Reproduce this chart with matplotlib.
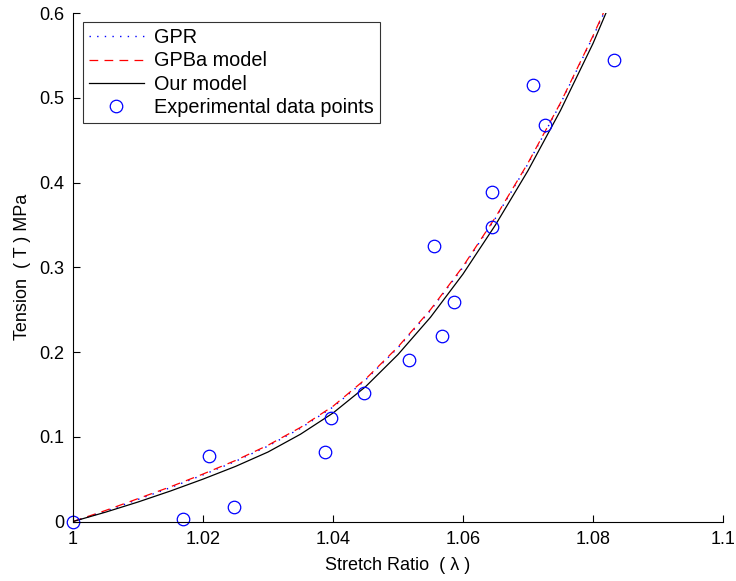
import numpy as np
import matplotlib
matplotlib.use("Agg")
import matplotlib.pyplot as plt

plt.rcParams['font.family'] = ['Liberation Sans', 'DejaVu Sans']

# experimental data (stretch ratio, tension in MPa)
exp_x = [1.000, 1.0169, 1.0209, 1.0248, 1.0388, 1.0397, 1.0448, 1.0517, 1.0556,
         1.0567, 1.0586, 1.0644, 1.0645, 1.0708, 1.0726, 1.0833]
exp_y = [0.000, 0.003, 0.077, 0.017, 0.082, 0.122, 0.152, 0.190, 0.325,
         0.219, 0.259, 0.347, 0.389, 0.515, 0.468, 0.544]

# model curves
our_x = [1.000, 1.005, 1.010, 1.015, 1.020, 1.025, 1.030, 1.035, 1.040,
         1.045, 1.050, 1.055, 1.060, 1.065, 1.070, 1.075, 1.080, 1.082]
our_y = [0.000, 0.011, 0.023, 0.036, 0.050, 0.065, 0.082, 0.103, 0.128,
         0.159, 0.197, 0.241, 0.292, 0.350, 0.414, 0.485, 0.564, 0.600]

gpba_x = [1.000, 1.005, 1.010, 1.015, 1.020, 1.025, 1.030, 1.035, 1.040,
          1.045, 1.050, 1.055, 1.060, 1.065, 1.070, 1.075, 1.080, 1.0816]
gpba_y = [0.000, 0.013, 0.027, 0.041, 0.056, 0.072, 0.090, 0.111, 0.136,
          0.168, 0.206, 0.250, 0.301, 0.359, 0.423, 0.494, 0.573, 0.600]

gpr_x = [1.000, 1.005, 1.010, 1.015, 1.020, 1.025, 1.030, 1.035, 1.040,
         1.045, 1.050, 1.055, 1.060, 1.065, 1.070, 1.075, 1.080, 1.0817]
gpr_y = [0.000, 0.012, 0.026, 0.040, 0.055, 0.071, 0.089, 0.110, 0.135,
         0.167, 0.205, 0.249, 0.300, 0.358, 0.422, 0.493, 0.572, 0.600]

x_ticks = [1.0, 1.02, 1.04, 1.06, 1.08, 1.1]
x_tick_labels = ["1", "1.02", "1.04", "1.06", "1.08", "1.1"]
y_ticks = [0, 0.1, 0.2, 0.3, 0.4, 0.5, 0.6]
y_tick_labels = ["0", "0.1", "0.2", "0.3", "0.4", "0.5", "0.6"]

fig = plt.figure(figsize=(7.36, 5.81), dpi=100)
ax = fig.add_axes([0.0992, 0.1024, 0.8831, 0.8752])

ax.plot(gpr_x, gpr_y, color="blue", linestyle=(0, (1, 4.5)), linewidth=1.0, label="GPR")
ax.plot(gpba_x, gpba_y, color="red", linestyle=(0, (7, 5)), linewidth=0.9, label="GPBa model")
ax.plot(our_x, our_y, color="black", linestyle="-", linewidth=0.9, label="Our model")
ax.plot(exp_x, exp_y, linestyle="none", marker="o", markersize=9, markerfacecolor="none",
        markeredgecolor="blue", markeredgewidth=0.9, label="Experimental data points",
        clip_on=False)

ax.set_xlim(1.0, 1.1)
ax.set_ylim(0, 0.6)
ax.set_xticks(x_ticks)
ax.set_xticklabels(x_tick_labels)
ax.set_yticks(y_ticks)
ax.set_yticklabels(y_tick_labels)
ax.tick_params(direction="in", length=5, width=0.8, labelsize=13)
ax.tick_params(axis="x", pad=7)
ax.tick_params(axis="y", pad=6)

ax.spines["top"].set_visible(False)
ax.spines["right"].set_visible(False)
ax.spines["left"].set_linewidth(0.8)
ax.spines["bottom"].set_linewidth(0.8)

ax.set_xlabel("Stretch Ratio  ( λ )", fontsize=13, labelpad=6)
ax.set_ylabel("Tension  ( T ) MPa", fontsize=13, labelpad=6)

leg = ax.legend(loc="upper left", bbox_to_anchor=(0.0154, 0.982), fontsize=14.3,
                frameon=True, fancybox=False, edgecolor="black", handlelength=2.77,
                handletextpad=0.5, labelspacing=0.22, borderpad=0.3, borderaxespad=0)
leg.get_frame().set_linewidth(0.8)

fig.savefig("out.png", dpi=100)
